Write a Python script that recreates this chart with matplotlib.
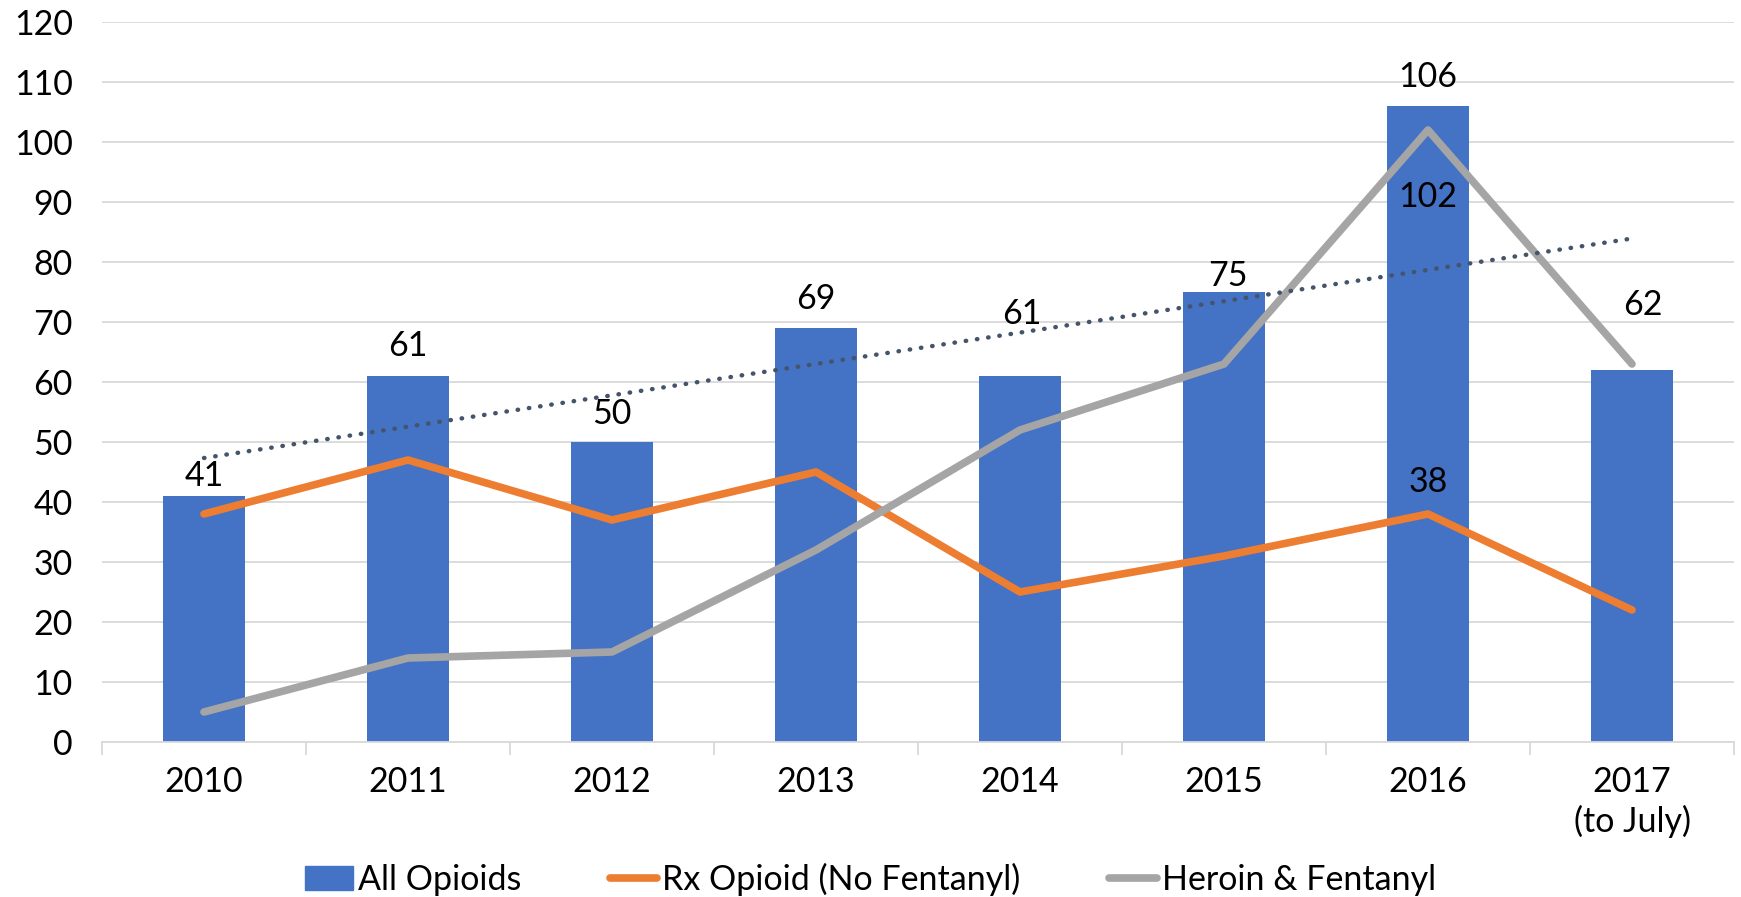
import numpy as np
import matplotlib
matplotlib.use("Agg")
import matplotlib.pyplot as plt
from matplotlib.patches import Patch
from matplotlib.lines import Line2D

categories = ["2010", "2011", "2012", "2013", "2014", "2015", "2016", "2017\n(to July)"]
all_opioids = [41, 61, 50, 69, 61, 75, 106, 62]
rx_opioid = [38, 47, 37, 45, 25, 31, 38, 22]
heroin_fentanyl = [5, 14, 15, 32, 52, 63, 102, 63]
yticks = list(range(0, 121, 10))

plt.rcParams['font.family'] = ['Lato', 'DejaVu Sans']

fig = plt.figure(figsize=(17.41, 8.97), dpi=100)
ax = fig.add_axes([102/1741, 1 - 742/897, (1734-102)/1741, (742-22)/897])

x = np.arange(len(categories))
blue = "#4472c4"; orange = "#ed7d31"; grey = "#a5a5a5"

ax.bar(x, all_opioids, width=0.4, color=blue, zorder=2)
ax.plot(x, rx_opioid, color=orange, lw=5.5, solid_capstyle='round', solid_joinstyle='round', zorder=3)
ax.plot(x, heroin_fentanyl, color=grey, lw=5.5, solid_capstyle='round', solid_joinstyle='round', zorder=3)

coef = np.polyfit(x, all_opioids, 1)
ax.plot(x, np.polyval(coef, x), color="#44546a", lw=3.2, linestyle=(0, (0.1, 2.45)),
        dash_capstyle='round', zorder=4)

fs = 24.5
px = 0.72  # points per pixel at dpi 100
bar_label_dy = [10, 20, 18, 19, 52, 6, 19, 55]  # pixel nudges as placed in the original
bar_label_dx = [0, 0, 0, 0, 2, 4, 0, 11]
for xi, v, gx, gy in zip(x, all_opioids, bar_label_dx, bar_label_dy):
    ax.annotate(str(v), (xi, v), xytext=(gx * px, gy * px), textcoords='offset points',
                ha='center', va='baseline', fontsize=fs, color='black', zorder=5)
ax.annotate(str(heroin_fentanyl[6]), (6, heroin_fentanyl[6]), xytext=(0, -77 * px),
            textcoords='offset points', ha='center', va='baseline', fontsize=fs, zorder=5)
ax.annotate(str(rx_opioid[6]), (6, rx_opioid[6]), xytext=(0, 22 * px),
            textcoords='offset points', ha='center', va='baseline', fontsize=fs, zorder=5)

ax.set_xlim(-0.5, len(categories) - 0.5)
ax.set_ylim(0, 120)
ax.set_yticks(yticks)
ax.set_yticklabels([str(t) for t in yticks], fontsize=fs)
ax.set_xticks(x)
ax.set_xticklabels(categories, fontsize=fs, linespacing=1.28)
ax.set_xticks(np.arange(-0.5, len(categories)), minor=True)
ax.tick_params(axis='x', which='major', length=0, pad=17)
ax.tick_params(axis='x', which='minor', length=9, color='#d9d9d9', width=1.3)
ax.tick_params(axis='y', length=0, pad=21)
ax.grid(axis='y', color='#d9d9d9', lw=1.3, zorder=0)
ax.set_axisbelow(True)
for s in ['top', 'right', 'left']:
    ax.spines[s].set_visible(False)
ax.spines['bottom'].set_color('#d9d9d9')
ax.spines['bottom'].set_linewidth(1.3)

handles = [Patch(color=blue, label='All Opioids'),
           Line2D([], [], color=orange, lw=5.5, solid_capstyle='round', label='Rx Opioid (No Fentanyl)'),
           Line2D([], [], color=grey, lw=5.5, solid_capstyle='round', label='Heroin & Fentanyl')]
fig.legend(handles=handles, loc='center', bbox_to_anchor=(0.5, 1 - 879/897), ncol=3,
           frameon=False, fontsize=fs, handlelength=1.4, handletextpad=0.15, columnspacing=2.6)

fig.savefig("out.png", dpi=100)
